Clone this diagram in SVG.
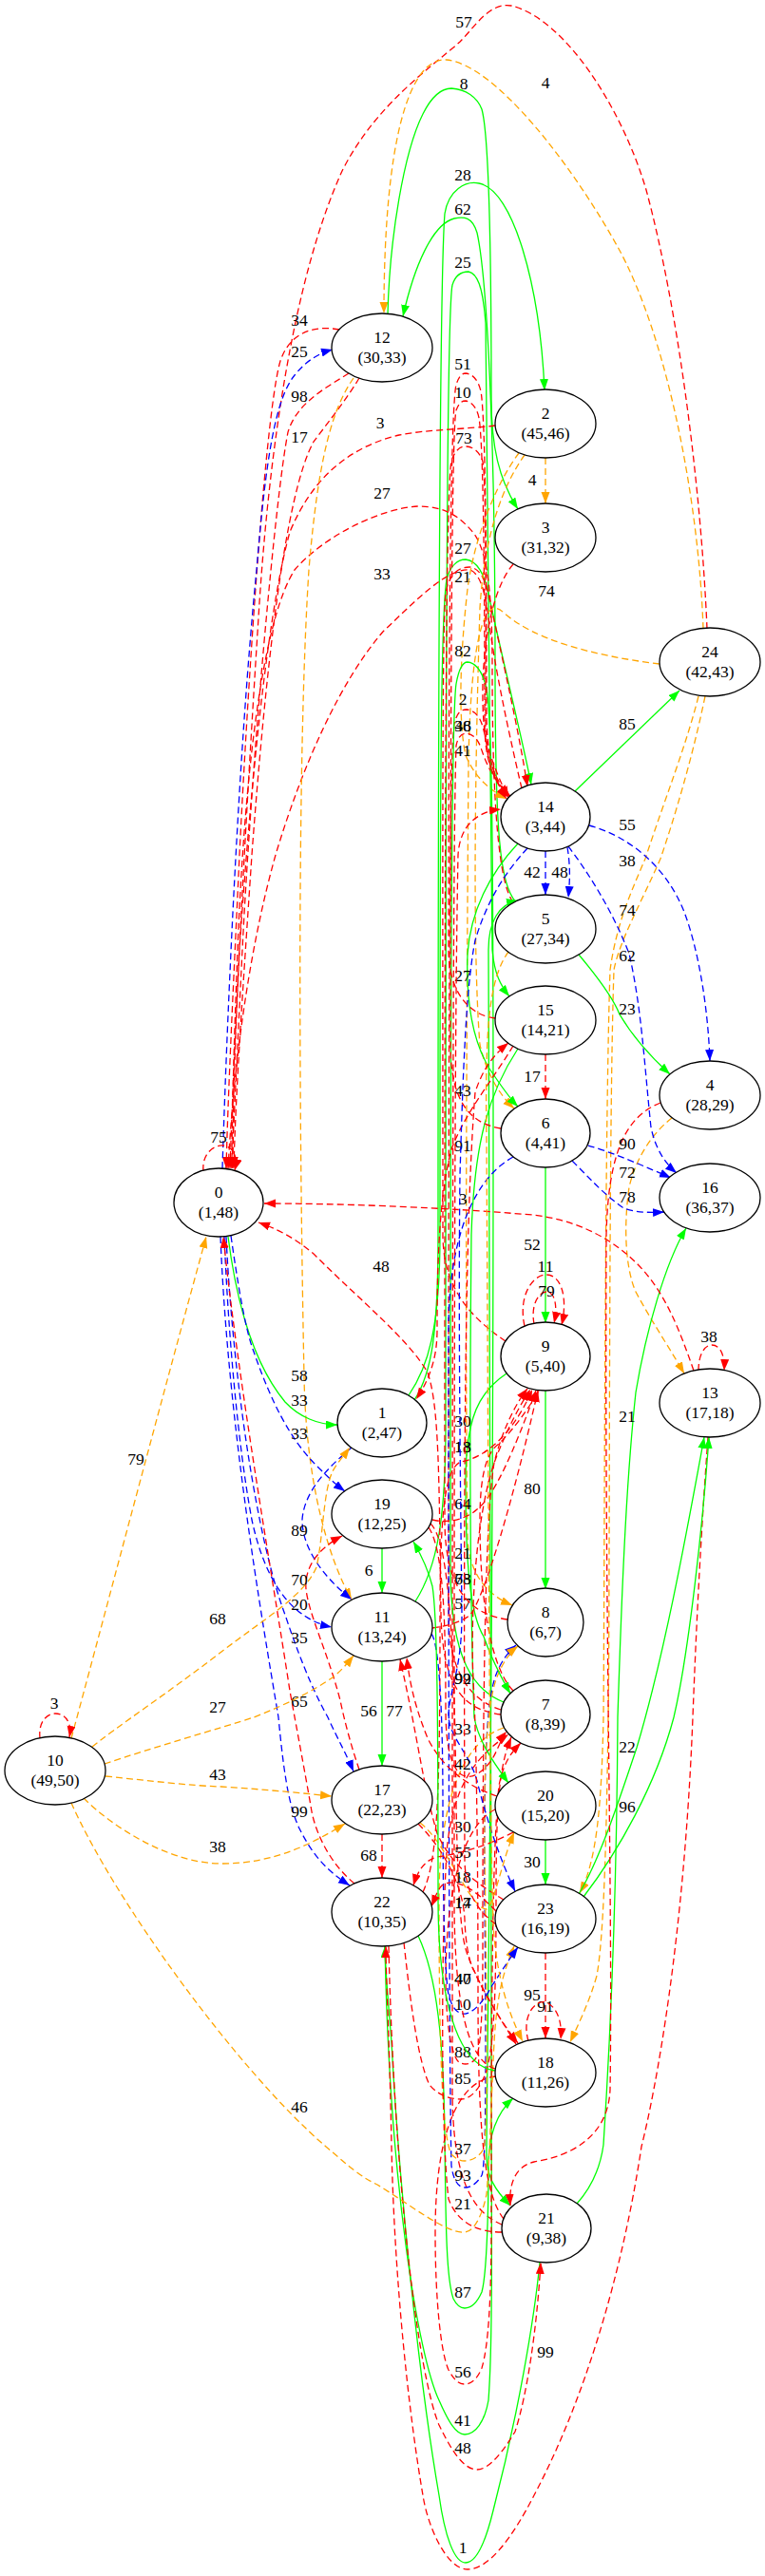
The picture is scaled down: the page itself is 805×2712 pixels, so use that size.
<svg xmlns="http://www.w3.org/2000/svg" width="805" height="2712" viewBox="0 0 805 2712">
<style>
.n ellipse{fill:#fff;stroke:#000;stroke-width:1.3}
text{font-family:"Liberation Serif","Times New Roman",serif;font-size:17.5px;text-anchor:middle;fill:#000}
#edges path{fill:none;stroke-width:1.3}
.g{stroke:#00ff00;marker-end:url(#ag)}
.r{stroke:#ff0000;stroke-dasharray:7,4;marker-end:url(#ar)}
.b{stroke:#0000ff;stroke-dasharray:7,4;marker-end:url(#ab)}
.o{stroke:#ffa500;stroke-dasharray:7,4;marker-end:url(#ao)}
</style>
<defs>
<marker id="ar" markerWidth="13" markerHeight="10" refX="12" refY="4.5" orient="auto" markerUnits="userSpaceOnUse"><path d="M0,0L12,4.5L0,9z" fill="#ff0000"/></marker>
<marker id="ag" markerWidth="13" markerHeight="10" refX="12" refY="4.5" orient="auto" markerUnits="userSpaceOnUse"><path d="M0,0L12,4.5L0,9z" fill="#00ff00"/></marker>
<marker id="ab" markerWidth="13" markerHeight="10" refX="12" refY="4.5" orient="auto" markerUnits="userSpaceOnUse"><path d="M0,0L12,4.5L0,9z" fill="#0000ff"/></marker>
<marker id="ao" markerWidth="13" markerHeight="10" refX="12" refY="4.5" orient="auto" markerUnits="userSpaceOnUse"><path d="M0,0L12,4.5L0,9z" fill="#ffa500"/></marker>
</defs>
<rect width="805" height="2712" fill="#fff"/>
<g id="edges">
<g id="e24_0"><path class="r" d="M744,662 C738,520 715,330 680,200 C655,115 595,20 538,6 C515,2 500,28 484,44 C455,70 395,110 360,180 C310,290 283,470 272,650 C258,870 247,1080 242,1230"/><text x="488" y="29">57</text></g>
<g id="e24_12"><path class="o" d="M740,662 C735,520 700,350 650,260 C600,170 520,68 470,63 C430,60 404,150 404,330"/><text x="574" y="93">4</text></g>
<g id="e12_3"><path class="g" d="M408,331 C410,250 425,160 445,120 C455,100 465,93 475,93 C490,94 502,102 507,115 C514,140 517,250 517,420 C517,470 525,505 545,536"/><text x="488" y="94">8</text></g>
<g id="e5_12"><path class="g" d="M543,950 C526,930 521,880 521,700 C521,450 512,290 502,245 C497,228 488,228 478,230 C455,236 436,280 424,333"/><text x="487" y="226">62</text></g>
<g id="e1_2"><path class="g" d="M436,1474 C455,1445 461,1400 461,1300 C461,800 462,300 468,225 C472,200 490,190 504,193 C540,200 568,300 573,411"/><text x="487" y="190">28</text></g>
<g id="e11_15"><path class="g" d="M437,1686 C460,1650 469,1600 469,1500 C469,900 469,330 476,300 C479,290 486,286 493,286 C502,288 508,300 511,340 C514,500 515,900 518,1000 C520,1025 527,1038 536,1049"/><text x="487" y="282">25</text></g>
<g id="e1_14"><path class="g" d="M430,1469 C450,1440 463,1400 463,1300 C463,900 463,650 470,610 C474,595 482,589 490,589 C502,590 510,605 514,625 C530,700 550,780 559,826"/><text x="487" y="583">27</text></g>
<g id="e9_14"><path class="r" d="M532,1412 C500,1390 466,1360 466,1300 C466,900 465,660 469,625 C472,605 482,597 494,597 C505,598 511,610 515,630 C530,700 546,770 555,828"/><text x="487" y="613">21</text></g>
<g id="e2_3"><path class="o" d="M574,482 L574,530"/><text x="560" y="511">4</text></g>
<g id="e14_0"><path class="r" d="M549,830 C535,770 520,700 514,650 C510,620 505,605 495,600 C470,598 440,630 403,665 C360,715 320,800 290,900 C262,1000 246,1120 240,1230"/><text x="402" y="610">33</text></g>
<g id="e2_0"><path class="r" d="M521,448 C490,452 450,452 420,458 C370,470 330,500 305,560 C280,650 262,850 252,1000 C247,1100 245,1170 245,1230"/><text x="400" y="451">3</text></g>
<g id="e5_0"><path class="r" d="M540,950 C525,930 518,850 518,700 C518,620 512,580 499,562 C485,545 470,533 440,533 C400,535 340,565 310,600 C278,650 258,800 250,1000 C246,1100 244,1180 244,1230"/><text x="402" y="525">27</text></g>
<g id="e12_0a"><path class="r" d="M357,347 C330,342 305,350 295,380 C280,430 262,700 252,900 C245,1050 240,1150 238,1230"/><text x="315" y="343">34</text></g>
<g id="e0_12"><path class="b" d="M234,1230 C238,1100 250,800 270,600 C280,480 290,420 310,395 C322,380 335,372 350,368"/><text x="315" y="376">25</text></g>
<g id="e12_0b"><path class="r" d="M367,393 C340,410 312,425 303,455 C290,520 265,800 255,1000 C250,1100 246,1180 244,1230"/><text x="315" y="423">98</text></g>
<g id="e12_0c"><path class="r" d="M378,398 C365,420 345,445 330,465 C300,520 280,700 265,900 C255,1050 248,1150 246,1230"/><text x="315" y="466">17</text></g>
<g id="e12_11"><path class="o" d="M372,398 C350,430 335,480 325,600 C312,800 315,1200 320,1450 C322,1560 345,1640 370,1684"/><text x="315" y="1454">58</text></g>
<g id="e24_8"><path class="o" d="M694,699 C620,690 560,672 530,645 C505,620 495,700 493,800 C490,1200 490,1500 492,1620 C494,1660 515,1680 539,1690"/><text x="575" y="628">74</text></g>
<g id="e2_14"><path class="o" d="M546,477 C525,505 500,560 492,620 C484,690 482,760 490,795 C498,815 512,830 533,841"/><text x="487" y="796">41</text></g>
<g id="e2_6"><path class="o" d="M552,479 C530,510 510,560 505,640 C500,800 497,1000 505,1100 C512,1130 525,1152 541,1167"/><text x="487" y="1154">43</text></g>
<g id="e7_14"><path class="r" d="M527,1800 C495,1790 472,1760 472,1700 C472,1200 472,800 478,762 C481,750 485,747 491,747 C500,748 505,755 508,765 C514,790 520,810 535,840"/><text x="487" y="742">2</text></g>
<g id="e3_14"><path class="r" d="M540,594 C522,615 510,660 508,720 C507,780 515,815 536,838"/><text x="487" y="770">48</text></g>
<g id="e21_14"><path class="r" d="M528,2342 C500,2330 476,2300 476,2200 C476,1500 476,900 480,785 C482,775 486,772 491,772 C499,773 504,780 507,790 C512,805 520,822 536,838"/><text x="487" y="770">36</text></g>
<g id="e7_21"><path class="g" d="M530,1792 C500,1780 474,1750 474,1650 C474,1200 474,760 480,720 C483,703 487,697 492,697 C502,698 508,708 512,725 C518,760 519,900 519,1200 C519,1800 512,2200 512,2270 C512,2290 520,2305 537,2322"/><text x="487" y="691">82</text></g>
<g id="e22_5"><path class="g" d="M405,2049 C410,2300 440,2480 462,2527 C472,2550 480,2563 489,2563 C500,2563 510,2550 514,2527 C519,2460 517,2327 517,2200 C517,1700 514,1100 514,1000 C514,970 525,952 545,948"/><text x="487" y="2554">41</text></g>
<g id="e21_22"><path class="g" d="M568,2382 C562,2443 545,2543 519,2643 C510,2680 500,2698 490,2698 C478,2698 468,2670 462,2627 C440,2500 420,2300 412,2150 C408,2100 405,2070 405,2049"/><text x="487" y="2688">1</text></g>
<g id="e22_21"><path class="r" d="M409,2049 C415,2300 440,2500 462,2553 C475,2580 488,2600 502,2600 C515,2600 530,2580 542,2560 C555,2520 565,2450 569,2382"/><text x="487" y="2583">48</text></g>
<g id="e13_22"><path class="r" d="M745,1513 C742,1556 735,1650 729,1808 C720,2041 690,2200 675,2260 C655,2393 615,2527 562,2627 C540,2670 515,2705 492,2705 C470,2705 450,2660 445,2627 C430,2540 415,2400 412,2260 C410,2150 406,2080 406,2049"/><text x="574" y="2482">99</text></g>
<g id="e22_18"><path class="g" d="M440,2038 C460,2080 467,2150 468,2250 C469,2350 470,2400 477,2420 C481,2428 485,2430 489,2430 C497,2430 503,2422 507,2413 C512,2395 514,2330 514,2280 C514,2250 522,2225 540,2209"/><text x="487" y="2419">87</text></g>
<g id="e18_7"><path class="r" d="M522,2186 C480,2190 458,2250 458,2350 C458,2430 465,2480 472,2495 C478,2506 483,2510 489,2510 C497,2510 503,2503 507,2493 C514,2470 517,2420 517,2343 C517,2100 518,1950 525,1880 C530,1855 538,1845 548,1835"/><text x="487" y="2503">56</text></g>
<g id="e6_8"><path class="b" d="M540,1218 C500,1240 472,1300 472,1400 C472,1900 473,2200 475,2280 C477,2295 482,2303 489,2303 C497,2303 503,2297 507,2290 C511,2280 512,2200 510,2000 C509,1850 512,1790 522,1763 C527,1750 534,1740 543,1732"/><text x="487" y="2296">93</text></g>
<g id="e7_8"><path class="o" d="M530,1819 C495,1830 462,1880 462,2000 C462,2150 465,2250 475,2268 C480,2273 484,2275 489,2275 C497,2275 505,2270 509,2262 C514,2240 512,2100 510,1950 C509,1850 513,1795 522,1768 C528,1752 536,1740 545,1733"/><text x="487" y="2268">37</text></g>
<g id="e21_7"><path class="r" d="M528,2350 C505,2350 482,2342 472,2315 C464,2250 464,2050 470,1950 C476,1880 500,1850 535,1826"/><text x="487" y="2326">21</text></g>
<g id="e22_7"><path class="r" d="M425,2045 C432,2110 440,2170 452,2195 C462,2207 475,2210 485,2210 C495,2210 505,2200 512,2180 C520,2150 522,2100 522,2000 C522,1900 525,1860 538,1829"/><text x="487" y="2194">85</text></g>
<g id="e20_9"><path class="r" d="M521,1905 C490,1920 470,1980 469,2080 C469,2130 475,2165 483,2171 C488,2174 495,2174 500,2168 C506,2160 508,2120 508,2050 C508,1800 510,1600 520,1540 C530,1500 545,1475 555,1462"/><text x="487" y="2166">88</text></g>
<g id="e17_18"><path class="r" d="M440,1920 C470,1950 488,1990 489,2021 C490,2050 495,2070 499,2075 C505,2090 520,2115 543,2152"/><text x="487" y="2089">40</text></g>
<g id="e19_18"><path class="r" d="M453,1604 C470,1620 478,1700 480,1900 C482,2000 485,2040 492,2058 C500,2080 520,2120 545,2151"/><text x="487" y="2089">47</text></g>
<g id="e23_18"><path class="r" d="M574,2056 L574,2146"/><text x="574" y="2118">91</text></g>
<g id="e18_18"><path class="r" d="M556,2149 C548,2120 565,2105 574,2108 C584,2111 592,2125 590,2147"/><text x="560" y="2106">95</text></g>
<g id="e24_23"><path class="o" d="M735,733 C722,785 700,840 679,904 C665,937 649,971 642,1021 C636,1200 636,1700 635,1808 C633,1900 628,1960 610,1993"/><text x="660" y="912">38</text></g>
<g id="e24_18"><path class="o" d="M742,733 C728,800 710,860 695,904 C675,950 652,990 646,1021 C640,1200 642,1700 640,1808 C638,1950 635,2041 628,2080 C620,2108 610,2128 600,2150"/><text x="660" y="964">74</text></g>
<g id="e4_13"><path class="o" d="M707,1177 C690,1190 670,1215 662,1250 C655,1300 660,1340 669,1360 C685,1390 702,1415 720,1446"/><text x="660" y="1240">72</text></g>
<g id="e14_16"><path class="b" d="M598,891 C620,920 645,960 662,1004 C675,1060 678,1120 685,1187 C690,1210 700,1225 712,1235"/><text x="660" y="1012">62</text></g>
<g id="e14_4"><path class="b" d="M620,869 C660,880 700,910 720,960 C735,1000 745,1060 747,1117"/><text x="660" y="874">55</text></g>
<g id="e14_5a"><path class="b" d="M574,896 L574,942"/><text x="560" y="924">42</text></g>
<g id="e14_5b"><path class="b" d="M597,892 C600,910 600,925 598,945"/><text x="589" y="924">48</text></g>
<g id="e14_24"><path class="g" d="M605,833 L715,727"/><text x="660" y="768">85</text></g>
<g id="e14_6"><path class="g" d="M545,888 C515,920 495,960 492,1004 C490,1060 500,1100 515,1125 C525,1140 535,1155 545,1165"/><text x="487" y="1033">27</text></g>
<g id="e5_4"><path class="g" d="M609,1005 C630,1030 645,1050 652,1068 C665,1090 682,1110 705,1131"/><text x="660" y="1068">23</text></g>
<g id="e15_6"><path class="r" d="M574,1110 L574,1157"/><text x="560" y="1139">17</text></g>
<g id="e15_20"><path class="g" d="M545,1104 C515,1150 499,1200 496,1300 C494,1500 495,1700 499,1808 C503,1830 515,1850 535,1877"/><text x="487" y="1668">73</text></g>
<g id="e15_1"><path class="r" d="M540,1101 C520,1135 490,1170 475,1210 C462,1260 460,1330 460,1400 C460,1430 452,1452 438,1473"/><text x="487" y="1212">91</text></g>
<g id="e6_9"><path class="g" d="M574,1229 L574,1393"/><text x="560" y="1316">52</text></g>
<g id="e9_9a"><path class="r" d="M552,1396 C545,1365 560,1342 575,1342 C590,1342 598,1365 591,1395"/><text x="574" y="1339">11</text></g>
<g id="e9_9b"><path class="r" d="M562,1394 C558,1372 568,1360 575,1360 C584,1360 587,1375 583,1393"/><text x="575" y="1365">79</text></g>
<g id="e9_8"><path class="g" d="M574,1464 L574,1673"/><text x="560" y="1573">80</text></g>
<g id="e9_7"><path class="g" d="M533,1446 C505,1465 490,1490 490,1560 C490,1650 495,1700 509,1723 C515,1740 525,1762 537,1783"/><text x="487" y="1502">30</text></g>
<g id="e19_9"><path class="r" d="M455,1600 C470,1604 490,1600 502,1589 C520,1575 540,1530 564,1464"/><text x="487" y="1589">64</text></g>
<g id="e11_9"><path class="r" d="M455,1714 C470,1712 485,1708 495,1700 C510,1680 540,1580 566,1464"/><text x="487" y="1694">57</text></g>
<g id="e22_9"><path class="r" d="M445,1992 C460,1960 463,1900 463,1700 C463,1580 470,1545 485,1539 C510,1535 540,1510 560,1463"/><text x="487" y="1529">13</text></g>
<g id="e7_9"><path class="r" d="M540,1780 C520,1760 505,1700 505,1600 C505,1560 510,1530 525,1520 C540,1505 555,1485 567,1464"/><text x="487" y="1529">18</text></g>
<g id="e19_11"><path class="g" d="M402,1630 L402,1677"/><text x="388" y="1659">6</text></g>
<g id="e11_17"><path class="g" d="M402,1749 L402,1859"/><text x="388" y="1807">56</text></g>
<g id="e17_22"><path class="r" d="M402,1931 L402,1977"/><text x="388" y="1959">68</text></g>
<g id="e20_23"><path class="g" d="M574,1937 L574,1984"/><text x="560" y="1966">30</text></g>
<g id="e23_13a"><path class="g" d="M609,1994 C630,1960 650,1900 670,1840 C700,1740 725,1600 741,1513"/><text x="660" y="1845">22</text></g>
<g id="e23_13b"><path class="g" d="M614,1997 C650,1950 690,1880 709,1808 C725,1740 740,1600 746,1513"/><text x="660" y="1908">96</text></g>
<g id="e21_16"><path class="g" d="M607,2320 C625,2300 632,2280 635,2258 C642,2150 649,2000 650,1808 C655,1650 660,1550 669,1466 C680,1400 700,1330 722,1293"/><text x="660" y="1497">21</text></g>
<g id="e13_13"><path class="r" d="M735,1443 C735,1425 742,1416 749,1416 C757,1416 763,1425 762,1443"/><text x="746" y="1413">38</text></g>
<g id="e13_0"><path class="r" d="M730,1443 C715,1400 700,1360 670,1330 C640,1300 600,1283 560,1279 C450,1270 350,1267 278,1267"/><text x="487" y="1268">3</text></g>
<g id="e7_0"><path class="r" d="M527,1805 C490,1800 466,1780 464,1700 C462,1550 462,1480 450,1445 C430,1410 380,1370 330,1320 C310,1303 292,1294 272,1287"/><text x="401" y="1339">48</text></g>
<g id="e4_21"><path class="r" d="M695,1161 C660,1175 640,1210 638,1300 C636,1700 645,2000 642,2200 C640,2250 600,2270 562,2276 C545,2280 535,2295 537,2322"/></g>
<g id="e6_16a"><path class="b" d="M619,1206 C640,1212 665,1222 706,1240"/><text x="660" y="1210">90</text></g>
<g id="e6_16b"><path class="b" d="M602,1222 C620,1240 635,1257 655,1271 C665,1276 680,1277 699,1276"/><text x="660" y="1266">78</text></g>
<g id="e0_1"><path class="g" d="M240,1302 C250,1380 270,1440 300,1476 C315,1492 335,1500 355,1500"/><text x="315" y="1480">33</text></g>
<g id="e0_19"><path class="b" d="M243,1301 C250,1350 258,1400 267,1423 C285,1475 305,1515 333,1543 C343,1553 352,1562 363,1570"/><text x="315" y="1515">33</text></g>
<g id="e1_11"><path class="b" d="M370,1524 C345,1545 320,1570 318,1600 C318,1630 340,1660 370,1684"/><text x="315" y="1617">89</text></g>
<g id="e0_11"><path class="b" d="M236,1302 C240,1400 250,1520 265,1600 C280,1670 310,1705 349,1713"/><text x="315" y="1695">20</text></g>
<g id="e0_17"><path class="b" d="M238,1302 C245,1450 270,1620 300,1700 C320,1760 335,1790 345,1808 C355,1830 365,1848 372,1865"/><text x="315" y="1730">35</text></g>
<g id="e0_22"><path class="b" d="M232,1302 C240,1500 275,1700 293,1808 C298,1860 303,1900 315,1925 C330,1955 345,1970 368,1985"/><text x="315" y="1913">99</text></g>
<g id="e22_0"><path class="r" d="M373,1983 C345,1960 330,1925 327,1901 C318,1850 310,1808 305,1780 C285,1650 250,1450 235,1302"/><text x="315" y="1797">65</text></g>
<g id="e17_19"><path class="r" d="M378,1863 C370,1840 362,1810 358,1790 C345,1740 325,1700 322,1673 C320,1650 335,1630 360,1617"/><text x="315" y="1669">70</text></g>
<g id="e10_0"><path class="o" d="M75,1830 C105,1720 160,1510 217,1302"/><text x="143" y="1542">79</text></g>
<g id="e10_1"><path class="o" d="M97,1839 C120,1820 180,1780 233,1739 C280,1703 320,1680 333,1650 C340,1620 340,1570 350,1549 C355,1540 362,1532 368,1524"/><text x="229" y="1710">68</text></g>
<g id="e10_11"><path class="o" d="M110,1857 C160,1840 230,1820 267,1808 C300,1795 330,1780 350,1766 C358,1760 365,1752 372,1743"/><text x="229" y="1803">27</text></g>
<g id="e10_17a"><path class="o" d="M111,1870 C160,1875 200,1880 233,1881 C280,1884 320,1888 349,1891"/><text x="229" y="1874">43</text></g>
<g id="e10_17b"><path class="o" d="M88,1893 C120,1925 180,1962 233,1962 C290,1962 330,1940 363,1920"/><text x="229" y="1950">38</text></g>
<g id="e10_23"><path class="o" d="M75,1898 C120,2000 250,2180 343,2260 C370,2283 380,2292 397,2300 C430,2320 470,2352 489,2350 C500,2349 508,2330 512,2310 C517,2250 518,2160 522,2125 C525,2095 530,2075 541,2049"/><text x="315" y="2224">46</text></g>
<g id="e10_10"><path class="r" d="M42,1830 C40,1812 50,1804 58,1804 C68,1804 76,1812 73,1829"/><text x="57" y="1799">3</text></g>
<g id="e11_23"><path class="b" d="M454,1720 C462,1730 466,1800 466,1900 C466,2000 468,2080 472,2100 C476,2115 482,2121 490,2120 C500,2118 510,2105 518,2090 C525,2080 532,2068 545,2050"/><text x="487" y="2116">10</text></g>
<g id="e14_23"><path class="b" d="M555,893 C530,920 512,950 500,990 C490,1040 487,1137 484,1237 C482,1400 485,1600 486,1700 C486,1760 472,1780 472,1808 C474,1830 495,1848 502,1875 C512,1915 525,1955 542,1991"/><text x="487" y="1826">33</text></g>
<g id="e20_22"><path class="r" d="M540,1929 C510,1945 480,1952 460,1955 C448,1958 440,1968 435,1985"/><text x="487" y="1956">55</text></g>
<g id="e23_11"><path class="r" d="M530,2000 C505,1985 475,1965 460,1930 C445,1880 440,1830 421,1747"/><text x="487" y="2009">14</text></g>
<g id="e20_11"><path class="r" d="M523,1891 C490,1880 465,1860 450,1830 C440,1805 432,1780 428,1745"/><text x="415" y="1807">77</text></g>
<g id="e17_20"><path class="o" d="M442,1919 C470,1940 495,2010 512,2010 C520,2005 528,1960 541,1929"/><text x="487" y="1929">30</text></g>
<g id="e19_7"><path class="r" d="M451,1608 C466,1630 469,1700 469,1800 C469,1840 475,1860 485,1868 C495,1874 505,1868 515,1856 C522,1848 527,1830 533,1823"/><text x="487" y="1863">42</text></g>
<g id="e15_14"><path class="r" d="M521,1072 C490,1068 472,1040 472,1000 C472,700 474,430 480,405 C483,396 486,393 490,393 C498,394 503,400 506,412 C511,440 512,600 512,750 C512,795 520,820 533,841"/><text x="487" y="389">51</text></g>
<g id="e6_14"><path class="r" d="M527,1188 C495,1183 474,1160 474,1100 C474,800 475,450 480,432 C483,424 486,422 490,422 C497,423 502,430 504,440 C509,470 510,620 510,760 C510,800 518,822 537,838"/><text x="487" y="419">10</text></g>
<g id="e8_14"><path class="r" d="M534,1705 C500,1700 468,1680 468,1600 C468,1000 468,520 475,485 C479,474 484,470 490,470 C498,470 505,476 508,486 C512,510 511,650 511,760 C511,800 518,822 535,839"/><text x="488" y="467">73</text></g>
<g id="e18_19"><path class="g" d="M521,2180 C480,2175 461,2100 461,2000 C461,1800 460,1700 455,1670 C450,1650 442,1635 435,1623"/><text x="487" y="1641">21</text></g>
<g id="e5_18"><path class="o" d="M535,1002 C515,1030 510,1080 512,1200 C514,1600 515,1900 519,2025 C522,2080 535,2120 550,2149"/><text x="487" y="1668">68</text></g>
<g id="e21_9"><path class="r" d="M530,2336 C510,2310 503,2250 503,2100 C503,1900 500,1800 498,1770 C495,1700 500,1600 520,1540 C535,1500 550,1475 558,1463"/><text x="487" y="1773">99</text></g>
<g id="e18_14"><path class="r" d="M521,2178 C495,2170 478,2120 478,2000 C478,1500 478,1100 482,900 C484,870 500,855 527,852"/><text x="487" y="1773">92</text></g>
<g id="e23_22"><path class="r" d="M522,2012 C500,1990 480,1975 465,1985 C460,1990 457,2000 454,2007"/><text x="487" y="1982">18</text></g>
<g id="e23_15"><path class="r" d="M522,2026 C500,2010 490,1990 489,1960 C488,1600 488,1300 500,1150 C508,1125 520,1110 535,1098"/><text x="487" y="2009">17</text></g>
<g id="e0_0"><path class="r" d="M214,1233 C212,1215 225,1205 235,1206 C245,1207 251,1218 247,1232"/><text x="230" y="1203">75</text></g>
</g>
<g id="node0" class="n"><ellipse cx="230" cy="1266" rx="47" ry="36"/><text x="230" y="1261">0</text><text x="230" y="1282">(1,48)</text></g>
<g id="node1" class="n"><ellipse cx="402" cy="1498" rx="47" ry="36"/><text x="402" y="1493">1</text><text x="402" y="1514">(2,47)</text></g>
<g id="node2" class="n"><ellipse cx="574" cy="446" rx="53" ry="36"/><text x="574" y="441">2</text><text x="574" y="462">(45,46)</text></g>
<g id="node3" class="n"><ellipse cx="574" cy="566" rx="53" ry="36"/><text x="574" y="561">3</text><text x="574" y="582">(31,32)</text></g>
<g id="node4" class="n"><ellipse cx="747" cy="1153" rx="53" ry="36"/><text x="747" y="1148">4</text><text x="747" y="1169">(28,29)</text></g>
<g id="node5" class="n"><ellipse cx="574" cy="978" rx="53" ry="36"/><text x="574" y="973">5</text><text x="574" y="994">(27,34)</text></g>
<g id="node6" class="n"><ellipse cx="574" cy="1193" rx="47" ry="36"/><text x="574" y="1188">6</text><text x="574" y="1209">(4,41)</text></g>
<g id="node7" class="n"><ellipse cx="574" cy="1805" rx="47" ry="36"/><text x="574" y="1800">7</text><text x="574" y="1821">(8,39)</text></g>
<g id="node8" class="n"><ellipse cx="574" cy="1708" rx="40" ry="36"/><text x="574" y="1703">8</text><text x="574" y="1724">(6,7)</text></g>
<g id="node9" class="n"><ellipse cx="574" cy="1428" rx="47" ry="36"/><text x="574" y="1423">9</text><text x="574" y="1444">(5,40)</text></g>
<g id="node10" class="n"><ellipse cx="58" cy="1864" rx="53" ry="36"/><text x="58" y="1859">10</text><text x="58" y="1880">(49,50)</text></g>
<g id="node11" class="n"><ellipse cx="402" cy="1713" rx="53" ry="36"/><text x="402" y="1708">11</text><text x="402" y="1729">(13,24)</text></g>
<g id="node12" class="n"><ellipse cx="402" cy="366" rx="53" ry="36"/><text x="402" y="361">12</text><text x="402" y="382">(30,33)</text></g>
<g id="node13" class="n"><ellipse cx="747" cy="1477" rx="53" ry="36"/><text x="747" y="1472">13</text><text x="747" y="1493">(17,18)</text></g>
<g id="node14" class="n"><ellipse cx="574" cy="860" rx="47" ry="36"/><text x="574" y="855">14</text><text x="574" y="876">(3,44)</text></g>
<g id="node15" class="n"><ellipse cx="574" cy="1074" rx="53" ry="36"/><text x="574" y="1069">15</text><text x="574" y="1090">(14,21)</text></g>
<g id="node16" class="n"><ellipse cx="747" cy="1261" rx="53" ry="36"/><text x="747" y="1256">16</text><text x="747" y="1277">(36,37)</text></g>
<g id="node17" class="n"><ellipse cx="402" cy="1895" rx="53" ry="36"/><text x="402" y="1890">17</text><text x="402" y="1911">(22,23)</text></g>
<g id="node18" class="n"><ellipse cx="574" cy="2182" rx="53" ry="36"/><text x="574" y="2177">18</text><text x="574" y="2198">(11,26)</text></g>
<g id="node19" class="n"><ellipse cx="402" cy="1594" rx="53" ry="36"/><text x="402" y="1589">19</text><text x="402" y="1610">(12,25)</text></g>
<g id="node20" class="n"><ellipse cx="574" cy="1901" rx="53" ry="36"/><text x="574" y="1896">20</text><text x="574" y="1917">(15,20)</text></g>
<g id="node21" class="n"><ellipse cx="575" cy="2346" rx="47" ry="36"/><text x="575" y="2341">21</text><text x="575" y="2362">(9,38)</text></g>
<g id="node22" class="n"><ellipse cx="402" cy="2013" rx="53" ry="36"/><text x="402" y="2008">22</text><text x="402" y="2029">(10,35)</text></g>
<g id="node23" class="n"><ellipse cx="574" cy="2020" rx="53" ry="36"/><text x="574" y="2015">23</text><text x="574" y="2036">(16,19)</text></g>
<g id="node24" class="n"><ellipse cx="747" cy="697" rx="53" ry="36"/><text x="747" y="692">24</text><text x="747" y="713">(42,43)</text></g>
</svg>
